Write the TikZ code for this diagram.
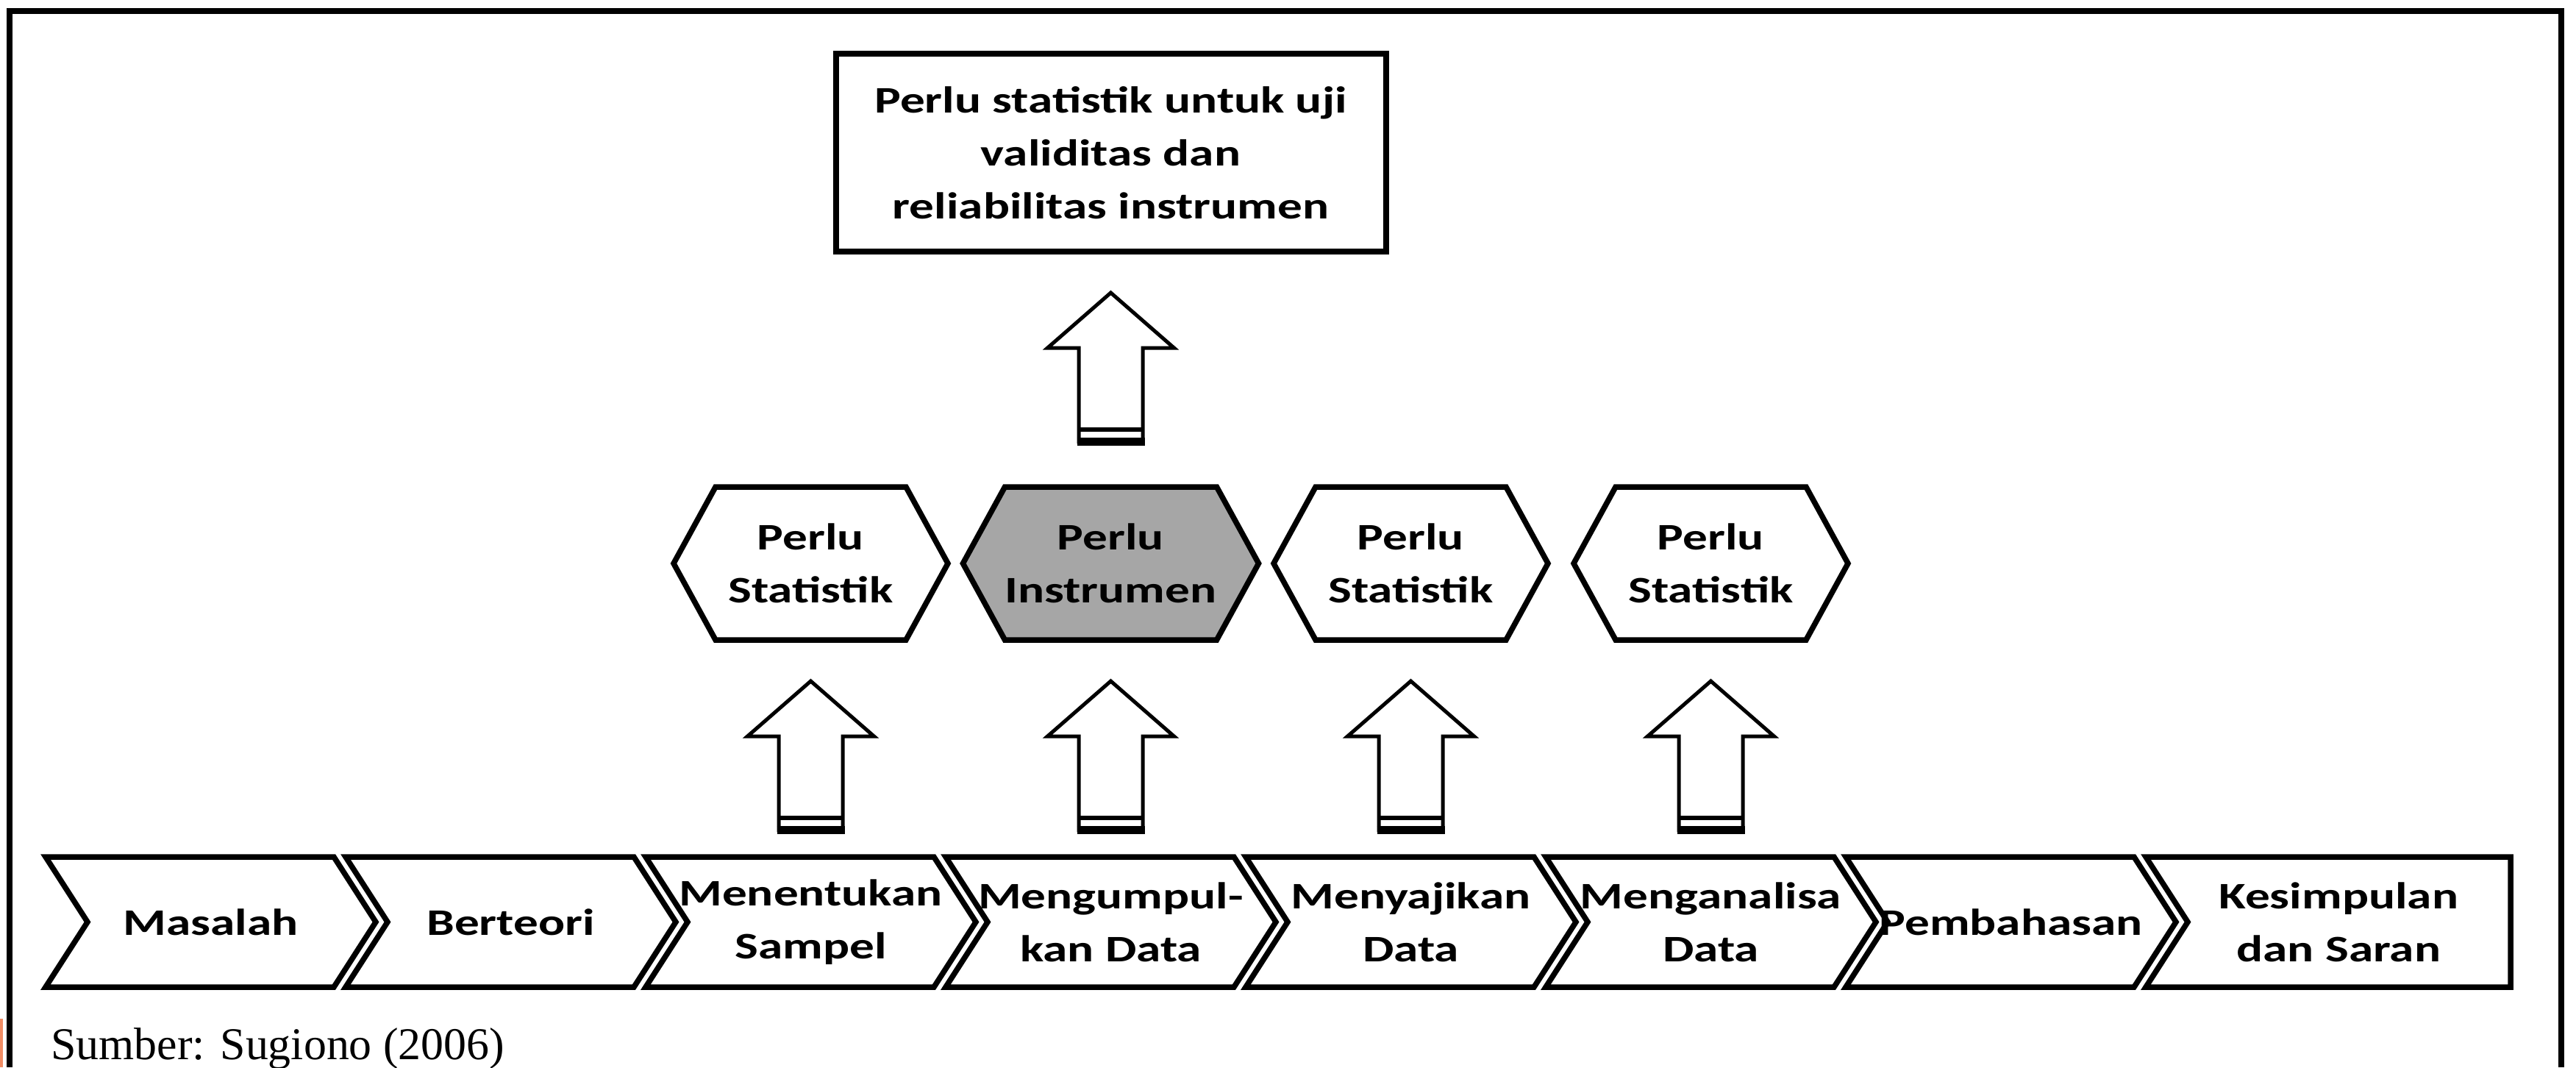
\documentclass[tikz,border=0pt]{standalone}
\usepackage{fontspec}
\setmainfont{Liberation Serif}
\newfontfamily\calfont[FakeStretch=1.32]{Carlito}
\usetikzlibrary{positioning, calc, backgrounds}
\definecolor{hexgray}{RGB}{166,166,166}
\definecolor{edgemark}{RGB}{240,140,100}
\newcommand{\boxfont}{\calfont\bfseries\fontsize{14.5pt}{20.5pt}\selectfont}
\newcommand{\tipdx}{0.285cm}
\newcommand{\slantdx}{0.57cm}
\tikzset{
  stage/.style={minimum width=3.92cm, minimum height=1.77cm, inner sep=0pt, outer sep=0pt, align=center, font=\boxfont},
  need/.style={minimum width=2.59cm, minimum height=2.08cm, inner sep=0pt, outer sep=0pt, align=center, font=\boxfont},
  note/.style={draw, line width=0.08cm, minimum width=7.48cm, minimum height=2.69cm, inner sep=0pt, outer sep=0pt, align=center, font=\boxfont},
  shape line/.style={draw, line width=0.075cm, line join=miter},
  fat/.style={draw, line width=0.05cm, line join=miter, fill=white}
}

% block arrow from one node up to the next
\newcommand{\fatarrow}[2]{%
  \draw[fat] let \p1=(#1.north), \p2=(#2.south) in
    (\x1,\y2-0.56cm) -- (\x1+0.86cm,\y2-1.31cm) -- (\x1+0.435cm,\y2-1.31cm)
    -- (\x1+0.435cm,\y2-2.585cm) -- (\x1-0.435cm,\y2-2.585cm)
    -- (\x1-0.435cm,\y2-1.31cm) -- (\x1-0.86cm,\y2-1.31cm) -- cycle;
  \draw[line width=0.11cm] let \p1=(#1.north), \p2=(#2.south) in
    (\x1-0.46cm,\y2-2.585cm) -- (\x1+0.46cm,\y2-2.585cm);
  \draw[line width=0.065cm] let \p1=(#1.north), \p2=(#2.south) in
    (\x1-0.435cm,\y2-2.42cm) -- (\x1+0.435cm,\y2-2.42cm);
}

\begin{document}
\begin{tikzpicture}
\useasboundingbox (0,0) rectangle (35.03,-14.51);
% outer frame
\draw[line width=0.085cm] (0.13,-14.51) |- (34.83,-0.15) -- (34.83,-14.51);
\fill[edgemark] (0,-13.85) rectangle (0.035,-14.51);

% research steps
\node[stage] (m1) at (2.865,-12.535) {Masalah};
\node[stage, right=0.16cm of m1] (m2) {Berteori};
\node[stage, right=0.16cm of m2] (m3) {Menentukan\\Sampel};
\node[stage, right=0.16cm of m3] (m4) {Mengumpul-\\kan Data};
\node[stage, right=0.16cm of m4] (m5) {Menyajikan\\Data};
\node[stage, right=0.16cm of m5] (m6) {Menganalisa\\Data};
\node[stage, right=0.16cm of m6] (m7) {Pembahasan};
\node[stage, minimum width=4.675cm, right=0.16cm of m7] (m8) {Kesimpulan\\dan Saran};

% what each step needs
\node[need, above=2.95cm of m3] (h1) {Perlu\\Statistik};
\node[need, above=2.95cm of m4] (h2) {Perlu\\Instrumen};
\node[need, above=2.95cm of m5] (h3) {Perlu\\Statistik};
\node[need, above=2.95cm of m6] (h4) {Perlu\\Statistik};

\node[note, above=3.2cm of h2] (top) {Perlu statistik untuk uji\\validitas dan\\reliabilitas instrumen};

\node[anchor=base west, font=\fontsize{17.6pt}{20pt}\selectfont] (src) at (0.57,-14.40) {Sumber: Sugiono (2006)};

\begin{scope}[on background layer]
\foreach \i in {1,...,7}
  \draw[shape line] ([xshift=-\tipdx]m\i.north west) -- ([xshift=-\tipdx]m\i.north east)
    -- ([xshift=\tipdx]m\i.east) -- ([xshift=-\tipdx]m\i.south east)
    -- ([xshift=-\tipdx]m\i.south west) -- ([xshift=\tipdx]m\i.west) -- cycle;
\draw[shape line] ([xshift=-\tipdx]m8.north west) -- (m8.north east) -- (m8.south east)
  -- ([xshift=-\tipdx]m8.south west) -- ([xshift=\tipdx]m8.west) -- cycle;
\foreach \i/\c in {1/white,2/hexgray,3/white,4/white}
  \draw[shape line, fill=\c] (h\i.north west) -- (h\i.north east) -- ([xshift=\slantdx]h\i.east)
    -- (h\i.south east) -- (h\i.south west) -- ([xshift=-\slantdx]h\i.west) -- cycle;
\end{scope}

\fatarrow{m3}{h1}
\fatarrow{m4}{h2}
\fatarrow{m5}{h3}
\fatarrow{m6}{h4}
\fatarrow{h2}{top}
\end{tikzpicture}
\end{document}
